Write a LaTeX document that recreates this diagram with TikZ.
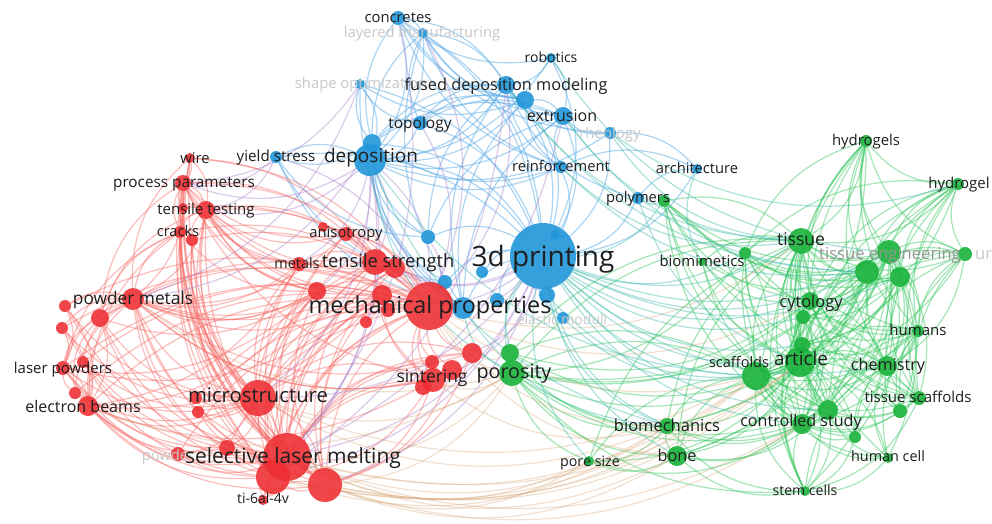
\documentclass[tikz,border=0pt]{standalone}
\usepackage{fontspec}
\setmainfont{Open Sans}
\definecolor{bnode}{RGB}{32,150,216}
\definecolor{rnode}{RGB}{238,44,48}
\definecolor{gnode}{RGB}{24,178,58}
\definecolor{bedge}{RGB}{90,172,232}
\definecolor{redge}{RGB}{248,100,96}
\definecolor{gedge}{RGB}{40,196,84}
\definecolor{rbedge}{RGB}{170,130,205}
\definecolor{rgedge}{RGB}{214,160,110}
\definecolor{bgedge}{RGB}{60,186,172}
\definecolor{labc}{RGB}{30,30,30}
\definecolor{fadc}{RGB}{200,200,200}
\definecolor{midc}{RGB}{150,150,150}
\newcommand\myfs[1]{\fontsize{#1}{#1}\selectfont}
\pgfdeclarelayer{paper}
\pgfdeclarelayer{edges}
\pgfsetlayers{paper,edges,main}
\begin{document}
\begin{tikzpicture}[x=1pt,y=-1pt,
  nd/.style={circle,inner sep=0pt,minimum size=#1pt,draw=none},
  bn/.style={nd=#1,fill=bnode,fill opacity=0.9},
  rn/.style={nd=#1,fill=rnode,fill opacity=0.88},
  gn/.style={nd=#1,fill=gnode,fill opacity=0.9},
  edge/.style={line width=1.2pt,bend right=25},
  be/.style={edge,draw=bedge,draw opacity=0.5},
  re/.style={edge,draw=redge,draw opacity=0.42},
  ge/.style={edge,draw=gedge,draw opacity=0.42},
  rb/.style={edge,draw=rbedge,draw opacity=0.42},
  rg/.style={edge,draw=rgedge,draw opacity=0.32},
  bg/.style={edge,draw=bgedge,draw opacity=0.42},
  lab/.style={inner sep=0pt,text=labc,anchor=base,yshift=-0.3*#1pt,font=\myfs{#1}},
  fad/.style={lab=#1,text=fadc},
]
\begin{pgfonlayer}{paper}
\fill[white] (0,0) rectangle (992,523);
\end{pgfonlayer}
\useasboundingbox (0,0) rectangle (992,523);

% ---------- blue cluster ----------
\node[bn=14] (b1) at (398,18) {};
\node[bn=10] (b2) at (423,33) {};
\node[bn=10] (b3) at (551,58) {};
\node[bn=10] (b4) at (360,84) {};
\node[bn=18] (b5) at (506,85) {};
\node[bn=18] (b6) at (525,100) {};
\node[bn=18] (b7) at (563,116) {};
\node[bn=14] (b8) at (420,123) {};
\node[bn=12] (b9) at (610,133) {};
\node[bn=12] (b10) at (276,157) {};
\node[bn=18] (b11) at (372,143) {};
\node[bn=32] (b12) at (370,160) {};
\node[bn=12] (b13) at (561,167) {};
\node[bn=10] (b14) at (697,169) {};
\node[bn=12] (b15) at (638,198) {};
\node[bn=66] (b16) at (543,256) {};
\node[bn=14] (b17) at (428,237) {};
\node[bn=12] (b18) at (482,272) {};
\node[bn=14] (b19) at (445,282) {};
\node[bn=22] (b20) at (463,308) {};
\node[bn=14] (b21) at (497,300) {};
\node[bn=16] (b22) at (547,295) {};
\node[bn=10] (b23) at (555,235) {};
\node[bn=12] (b24) at (563,318) {};

% ---------- red cluster ----------
\node[rn=10] (r1) at (190,158) {};
\node[rn=16] (r2) at (183,183) {};
\node[rn=18] (r3) at (206,210) {};
\node[rn=10] (r4) at (183,208) {};
\node[rn=12] (r5) at (180,232) {};
\node[rn=12] (r6) at (192,240) {};
\node[rn=10] (r7) at (323,227) {};
\node[rn=14] (r8) at (346,234) {};
\node[rn=14] (r9) at (299,264) {};
\node[rn=26] (r10) at (375,262) {};
\node[rn=20] (r11) at (395,268) {};
\node[rn=48] (r12) at (429,306) {};
\node[rn=18] (r13) at (317,291) {};
\node[rn=20] (r14) at (382,295) {};
\node[rn=14] (r15) at (388,310) {};
\node[rn=12] (r16) at (366,322) {};
\node[rn=22] (r17) at (133,299) {};
\node[rn=18] (r18) at (100,318) {};
\node[rn=12] (r19) at (65,306) {};
\node[rn=12] (r20) at (62,328) {};
\node[rn=14] (r21) at (63,368) {};
\node[rn=12] (r22) at (83,362) {};
\node[rn=12] (r23) at (75,393) {};
\node[rn=20] (r24) at (88,406) {};
\node[rn=36] (r25) at (258,398) {};
\node[rn=12] (r26) at (196,398) {};
\node[rn=12] (r27) at (198,412) {};
\node[rn=48] (r28) at (287,457) {};
\node[rn=34] (r29) at (273,477) {};
\node[rn=34] (r30) at (325,485) {};
\node[rn=16] (r31) at (227,448) {};
\node[rn=14] (r32) at (178,454) {};
\node[rn=10] (r33) at (263,500) {};
\node[rn=14] (r34) at (432,362) {};
\node[rn=20] (r35) at (452,370) {};
\node[rn=24] (r36) at (433,380) {};
\node[rn=16] (r37) at (423,387) {};
\node[rn=20] (r38) at (472,353) {};

% ---------- green cluster ----------
\node[gn=12] (g1) at (664,201) {};
\node[gn=8] (g2) at (702,262) {};
\node[gn=12] (g3) at (745,253) {};
\node[gn=26] (g4) at (801,241) {};
\node[gn=24] (g5) at (889,252) {};
\node[gn=24] (g6) at (867,272) {};
\node[gn=20] (g7) at (900,277) {};
\node[gn=14] (g8) at (965,254) {};
\node[gn=12] (g9) at (866,141) {};
\node[gn=12] (g10) at (958,184) {};
\node[gn=18] (g11) at (810,301) {};
\node[gn=14] (g12) at (803,317) {};
\node[gn=12] (g13) at (918,331) {};
\node[gn=16] (g14) at (802,345) {};
\node[gn=30] (g15) at (800,362) {};
\node[gn=28] (g16) at (756,376) {};
\node[gn=20] (g17) at (887,366) {};
\node[gn=14] (g18) at (919,398) {};
\node[gn=14] (g19) at (900,411) {};
\node[gn=20] (g20) at (828,410) {};
\node[gn=20] (g21) at (802,424) {};
\node[gn=16] (g22) at (667,426) {};
\node[gn=20] (g23) at (677,456) {};
\node[gn=10] (g24) at (589,461) {};
\node[gn=10] (g25) at (888,458) {};
\node[gn=12] (g26) at (855,437) {};
\node[gn=10] (g27) at (805,491) {};
\node[gn=26] (g28) at (512,373) {};
\node[gn=18] (g29) at (510,353) {};

\begin{pgfonlayer}{edges}
% links inside the blue cluster
\foreach \a/\b in {b16/b1,b16/b2,b16/b3,b16/b4,b16/b5,b16/b6,b16/b7,b16/b8,b16/b9,b16/b10,b16/b11,b16/b12,b16/b13,b16/b14,b16/b15,b16/b17,b16/b18,b16/b19,b16/b20,b16/b21,b16/b22,b16/b23,b16/b24,
  b12/b1,b12/b2,b12/b4,b12/b5,b12/b6,b12/b7,b12/b8,b12/b10,b12/b11,b12/b13,b12/b17,b12/b19,b12/b20,b12/b3,b12/b9,
  b5/b1,b5/b2,b5/b3,b5/b6,b5/b7,b5/b8,b5/b9,b5/b13,b5/b15,b5/b11,b5/b20,b5/b17,
  b2/b1,b2/b8,b2/b11,b2/b6,b2/b7,b2/b13,b2/b20,
  b7/b3,b7/b9,b7/b13,b7/b6,b7/b8,b7/b20,b7/b17,b7/b11,
  b1/b3,b1/b6,b1/b9,b1/b13,b1/b11,
  b10/b11,b10/b17,b10/b19,b10/b20,
  b14/b15,b14/b13,b14/b9,
  b4/b6,b4/b8,b4/b11,b4/b20,
  b6/b13,b6/b8,b6/b20,b6/b11,
  b11/b20,b11/b17,b11/b13}
  \draw[be] (\a) to (\b);
% links inside the red cluster
\foreach \b in {r1,r2,r3,r4,r5,r6,r7,r8,r9,r10,r11,r13,r14,r15,r16,r17,r18,r19,r20,r21,r22,r23,r24,r25,r26,r27,r28,r29,r30,r31,r32,r33,r34,r35,r36,r37,r38}
  \draw[re] (r12) to (\b);
\foreach \b in {r1,r2,r3,r4,r5,r6,r8,r9,r10,r13,r17,r18,r19,r20,r21,r22,r23,r24,r25,r26,r27,r29,r30,r31,r32,r33,r34,r36,r38,r14,r11}
  \draw[re] (\b) to (r28);
\foreach \b in {r2,r3,r5,r9,r10,r13,r17,r18,r19,r20,r21,r22,r23,r24,r26,r27,r29,r30,r31,r32,r33,r36,r14,r4,r1,r6}
  \draw[re] (\b) to (r25);
\foreach \a/\b in {r17/r18,r17/r19,r17/r20,r17/r21,r17/r22,r17/r23,r17/r24,r17/r2,r17/r3,r17/r10,r17/r29,r17/r30,r17/r36,r17/r13,
  r24/r21,r24/r22,r24/r23,r24/r29,r24/r30,r24/r20,r24/r18,r24/r19,
  r10/r3,r10/r2,r10/r1,r10/r13,r10/r9,r10/r8,r10/r29,r10/r30,r10/r36,r10/r11,r10/r7,
  r3/r1,r3/r2,r3/r4,r3/r5,r3/r6,r3/r29,r3/r30,r3/r13,
  r29/r30,r29/r33,r2/r29,r5/r29,r29/r36,r18/r29,r21/r29,r22/r29,
  r30/r33,r30/r36,r30/r38,r30/r35,r2/r30,r6/r30,
  r2/r1,r2/r4,r2/r5,r2/r6,
  r36/r34,r36/r35,r36/r37,r36/r38,r14/r36,
  r21/r22,r21/r23,r21/r19,r21/r20,
  r17/r13,r18/r13,r2/r13,r3/r13,r21/r13,r24/r13,r13/r29,r13/r30,r5/r13,
  r2/r9,r3/r9,r17/r9,r9/r29,r24/r9,
  r2/r14,r3/r14,r17/r14,r14/r29,r14/r30,r24/r14,r21/r14,
  r2/r11,r3/r11,r11/r29,r11/r30,r17/r11,
  r2/r8,r3/r8,r8/r29,r17/r8,
  r38/r29,r17/r38,r38/r25,
  r36/r29,r17/r36,r24/r36,r2/r36,
  r18/r21,r18/r23,r2/r18,r3/r18,r5/r18,
  r5/r24,r5/r21,r5/r17,r5/r30,
  r1/r17,r1/r29,r1/r30,
  r17/r31,r24/r31,r21/r31}
  \draw[re] (\a) to (\b);
% links inside the green cluster
\foreach \b in {g1,g2,g3,g5,g6,g7,g8,g9,g10,g11,g12,g13,g14,g15,g16,g17,g18,g19,g20,g21,g22,g23,g24,g25,g26,g27,g28,g29}
  \draw[ge] (g4) to (\b);
\foreach \b in {g1,g2,g3,g5,g6,g7,g8,g9,g10,g11,g12,g13,g14,g16,g17,g18,g19,g20,g21,g22,g23,g24,g25,g26,g27,g28,g29}
  \draw[ge] (\b) to (g15);
\foreach \b in {g1,g3,g5,g6,g7,g8,g9,g10,g11,g12,g13,g14,g17,g18,g19,g20,g21,g22,g23,g24,g25,g26,g27,g28,g29}
  \draw[ge] (g16) to (\b);
\foreach \b in {g6,g7,g8,g9,g10,g11,g12,g13,g14,g17,g18,g19,g20,g21,g22,g23,g25,g26,g27,g28,g3,g1}
  \draw[ge] (\b) to (g5);
\foreach \a/\b in {g9/g10,g9/g6,g9/g7,g9/g8,g9/g11,g9/g14,g9/g17,g9/g20,g9/g21,g9/g3,g9/g13,
  g10/g6,g10/g7,g10/g8,g10/g11,g10/g13,g10/g17,g10/g18,g10/g20,g10/g21,g10/g3,
  g17/g6,g17/g7,g17/g8,g17/g11,g17/g12,g17/g13,g17/g18,g17/g19,g17/g20,g17/g21,g17/g25,g17/g26,g17/g27,g17/g14,
  g21/g6,g21/g7,g21/g11,g21/g12,g21/g13,g21/g18,g21/g19,g21/g20,g22/g21,g23/g21,g24/g21,g21/g25,g21/g26,g21/g27,g28/g21,
  g28/g22,g28/g23,g28/g24,g28/g6,g28/g11,g28/g20,g28/g27,g28/g3,g29/g22,g29/g11,
  g22/g23,g24/g22,g22/g6,g22/g20,g22/g27,
  g24/g23,g23/g27,g23/g20,g23/g6,
  g8/g6,g8/g7,g8/g13,g8/g18,g8/g19,g8/g20,g8/g11,
  g27/g20,g27/g25,g27/g26,g27/g18,g11/g27,
  g11/g6,g11/g7,g11/g12,g11/g13,g11/g14,g11/g18,g11/g20,
  g3/g6,g3/g7,g3/g11,g3/g20,g3/g21,g3/g13,
  g1/g6,g1/g7,g1/g11,g1/g20,g1/g21,g1/g17,
  g2/g6,g2/g11,g2/g20,
  g12/g6,g12/g7,g12/g13,g12/g18,g12/g20,g12/g27,
  g14/g6,g14/g7,g14/g13,g14/g18,g14/g20,g14/g27,
  g13/g18,g13/g19,g13/g20,g13/g25,g13/g26,
  g6/g7,g6/g18,g7/g18,g20/g18,g20/g25,g20/g26}
  \draw[ge] (\a) to (\b);
% links between red and blue
\foreach \a/\b in {r12/b16,r10/b16,r29/b16,r30/b16,r28/b16,r36/b16,r38/b16,r25/b16,r11/b16,r14/b16,
  r12/b12,r10/b12,r3/b12,r2/b12,r28/b12,r3/b10,r2/b10,r12/b10,r2/b4,r17/b4,r12/b2,r12/b8,r17/b11,
  r12/b17,r12/b5,r28/b7,r12/b20,r10/b19,r28/b1,r29/b5,r25/b12,r29/b12,r13/b12,r9/b11}
  \draw[rb] (\a) to (\b);
% links between red and green
\foreach \a/\b in {r12/g28,r28/g28,r30/g28,r25/g28,r28/g15,r12/g16,r28/g16,r30/g16,r28/g22,r12/g22,
  r12/g23,r30/g23,r28/g24,r30/g24,r12/g4,r12/g11,r36/g28,r38/g29,r30/g21,r29/g15,r29/g22,r25/g16,
  r29/g16,r30/g15,r28/g21,r25/g22,r28/g23,r24/g28,r17/g28,r36/g22}
  \draw[rg] (\a) to (\b);
% links between blue and green
\foreach \a/\b in {b16/g28,b16/g29,b16/g16,b16/g15,b16/g4,b16/g3,b16/g1,b16/g22,b16/g23,b16/g21,b16/g11,b16/g6,b16/g17,b16/g5,b16/g14,
  b9/g4,b9/g10,b3/g5,b14/g2,b15/g1,b13/g4,b7/g6,b12/g28,b20/g28,b24/g16,b5/g4,b12/g16,b15/g15,
  b16/g7,b16/g20,b16/g12,b5/g6,b7/g4,b13/g6,b16/g24,b22/g16,b22/g22,b20/g22,b12/g22}
  \draw[bg] (\a) to (\b);
\end{pgfonlayer}

% ---------- labels ----------
\node[lab=14.8] (t-b1) at (398,18) {concretes};
\node[fad=14.8] (t-b2) at (422,33) {layered manufacturing};
\node[lab=14] (t-b3) at (551,58) {robotics};
\node[fad=14.8] (t-b4) at (361,84) {shape optimization};
\node[lab=16.3] (t-b5) at (506,86) {fused deposition modeling};
\node[lab=16] (t-b7) at (562,117) {extrusion};
\node[lab=15.5] (t-b8) at (420,124) {topology};
\node[fad=15] (t-b9) at (610,134) {rheology};
\node[lab=15.2] (t-b10) at (276,157) {yield stress};
\node[lab=19] (t-b12) at (371,157) {deposition};
\node[lab=14.7] (t-b13) at (561,167) {reinforcement};
\node[lab=14.7] (t-b14) at (697,169) {architecture};
\node[lab=14.7] (t-b15) at (638,198) {polymers};
\node[lab=28] (t-b16) at (543,258) {3d printing};
\node[fad=14] (t-b24) at (562,320) {elastic moduli};

\node[lab=14.8] (t-r1) at (195,159) {wire};
\node[lab=15.3] (t-r2) at (184,183) {process parameters};
\node[lab=15] (t-r3) at (206,210) {tensile testing};
\node[lab=14.6] (t-r5) at (178,232) {cracks};
\node[lab=14.8] (t-r8) at (346,233) {anisotropy};
\node[lab=14.4] (t-r9) at (297,264) {metals};
\node[lab=18.3] (t-r10) at (388,262) {tensile strength};
\node[lab=23.4] (t-r12) at (430,306) {mechanical properties};
\node[lab=17.3] (t-r17) at (133,299) {powder metals};
\node[lab=15] (t-r21) at (63,369) {laser powders};
\node[lab=16] (t-r24) at (83,408) {electron beams};
\node[lab=20.3] (t-r25) at (258,396) {microstructure};
\node[fad=14.7] (t-r32) at (168,456) {powder};
\node[lab=21] (t-r28) at (293,457) {selective laser melting};
\node[lab=14] (t-r33) at (263,499) {ti-6al-4v};
\node[lab=17.4] (t-r36) at (432,377) {sintering};

\node[lab=14.9] (t-g2) at (702,262) {biomimetics};
\node[lab=17.5] (t-g4) at (801,240) {tissue};
\node[lab=16.6,text=midc] (t-g5) at (890,255) {tissue engineering};
\node[fad=16.6,anchor=base west] (t-g8) at (975,255) {ure};
\node[lab=14.9] (t-g9) at (866,141) {hydrogels};
\node[lab=15] (t-g10) at (959,184) {hydrogel};
\node[lab=16.4] (t-g11) at (811,303) {cytology};
\node[lab=15] (t-g13) at (918,331) {humans};
\node[lab=18.8] (t-g15) at (801,360) {article};
\node[lab=14.5] (t-g16) at (739,363) {scaffolds};
\node[lab=16.2] (t-g17) at (888,366) {chemistry};
\node[lab=15] (t-g18) at (918,398) {tissue scaffolds};
\node[lab=16.1] (t-g21) at (801,422) {controlled study};
\node[lab=16.5] (t-g22) at (667,427) {biomechanics};
\node[lab=16.3] (t-g23) at (677,457) {bone};
\node[lab=14.3] (t-g24) at (590,462) {pore size};
\node[lab=14.4] (t-g25) at (888,457) {human cell};
\node[lab=14.1] (t-g27) at (805,491) {stem cells};
\node[lab=19.7] (t-g28) at (514,373) {porosity};
\end{tikzpicture}
\end{document}
